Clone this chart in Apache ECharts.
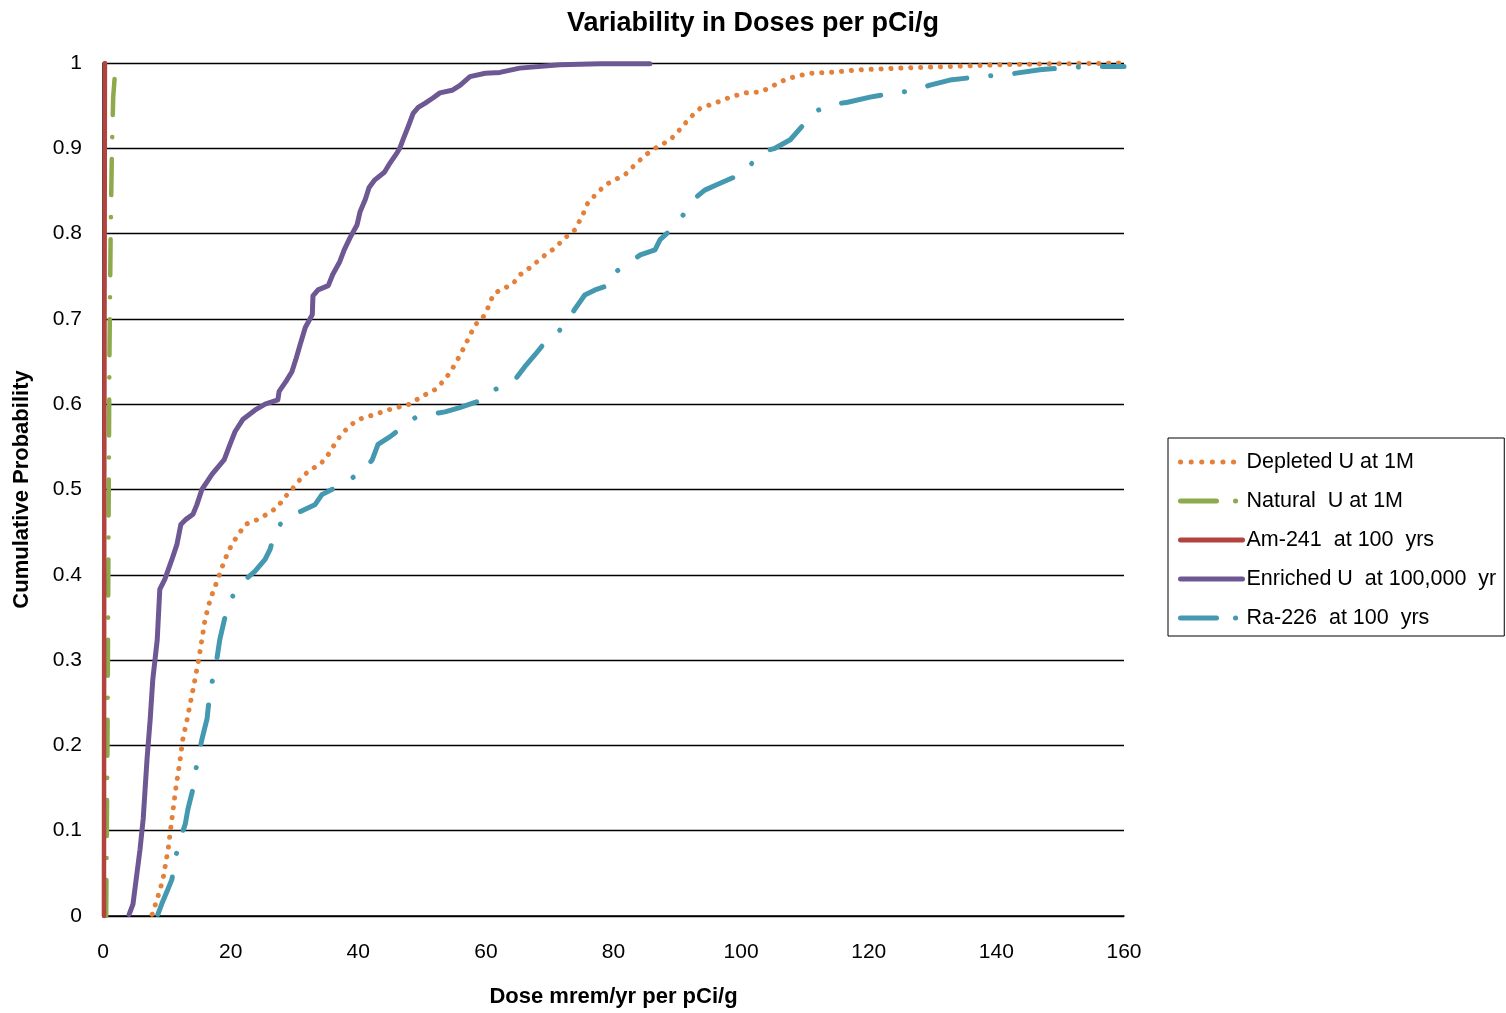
<!DOCTYPE html>
<html>
<head>
<meta charset="utf-8">
<title>Variability in Doses per pCi/g</title>
<script src="https://cdn.jsdelivr.net/npm/echarts@6/dist/echarts.min.js"></script>
<style>
    html, body { margin: 0; padding: 0; background: #fff; }
    #chart { width: 1506px; height: 1013px; }
</style>
</head>
<body>
<div id="chart"></div>
<script>
// data: [dose, cumulative probability]
const depletedU = [
    [7.7, 0.002], [8.5, 0.02], [9.4, 0.043], [10.2, 0.078], [10.8, 0.114], [11.4, 0.149],
    [12.1, 0.184], [12.5, 0.207], [13.2, 0.231], [13.8, 0.254], [14.4, 0.277], [15.0, 0.301],
    [15.5, 0.324], [16.0, 0.348], [16.8, 0.371], [18.0, 0.395], [19.1, 0.418], [20.2, 0.436],
    [21.2, 0.447], [22.3, 0.459], [24.3, 0.465], [25.9, 0.472], [27.3, 0.479], [28.5, 0.491],
    [29.6, 0.5], [30.9, 0.512], [32.4, 0.523], [34.0, 0.529], [35.3, 0.541], [36.8, 0.559],
    [38.4, 0.573], [40.0, 0.582], [42.6, 0.588], [45.0, 0.594], [48.1, 0.6], [49.7, 0.608],
    [52.0, 0.617], [53.6, 0.629], [54.7, 0.641], [56.0, 0.658], [57.2, 0.676], [58.3, 0.693],
    [59.5, 0.701], [60.6, 0.717], [61.1, 0.728], [62.2, 0.734], [64.1, 0.74], [65.4, 0.752],
    [66.9, 0.76], [69.3, 0.775], [70.8, 0.783], [72.4, 0.795], [73.9, 0.804], [75.2, 0.822],
    [75.8, 0.834], [77.1, 0.845], [78.7, 0.857], [80.2, 0.863], [81.8, 0.869], [83.4, 0.881],
    [85.0, 0.892], [86.5, 0.9], [88.9, 0.91], [90.4, 0.922], [92.0, 0.936], [93.6, 0.947],
    [95.9, 0.953], [98.3, 0.96], [100.6, 0.965], [103.0, 0.966], [104.5, 0.971], [106.1, 0.978],
    [108.4, 0.984], [110.8, 0.988], [113.9, 0.989], [118.6, 0.992], [124.9, 0.994], [132.7, 0.996],
    [140.6, 0.998], [148.4, 0.999], [156.2, 0.9995], [160, 1.0]
]
const naturalU = [
    [0.5, 0], [0.6, 0.1], [0.7, 0.2], [0.8, 0.35], [0.9, 0.5], [1.0, 0.65],
    [1.2, 0.8], [1.4, 0.9], [1.6, 0.96], [2.0, 1.0]
]
const am241 = [
    [0.15, 0], [0.2, 0.5], [0.3, 1.0]
]
const enrichedU = [
    [4.1, 0.002], [4.7, 0.014], [5.8, 0.078], [6.3, 0.114], [6.9, 0.184], [7.4, 0.231],
    [7.8, 0.277], [8.5, 0.324], [8.9, 0.383], [9.7, 0.395], [10.8, 0.418], [11.6, 0.436],
    [12.2, 0.459], [13.0, 0.465], [14.1, 0.471], [14.7, 0.482], [15.5, 0.5], [17.1, 0.518],
    [19.0, 0.535], [19.9, 0.553], [20.7, 0.568], [21.9, 0.582], [24.0, 0.594], [25.4, 0.6],
    [27.4, 0.605], [27.6, 0.615], [28.7, 0.627], [29.6, 0.638], [30.2, 0.652], [30.9, 0.67],
    [31.7, 0.69], [32.8, 0.705], [32.9, 0.727], [33.7, 0.734], [35.3, 0.739], [36.0, 0.752],
    [37.1, 0.767], [37.8, 0.781], [38.7, 0.795], [39.8, 0.81], [40.3, 0.826], [41.1, 0.84],
    [41.7, 0.854], [42.6, 0.863], [44.1, 0.872], [45.0, 0.883], [46.1, 0.895], [46.5, 0.9],
    [47.0, 0.91], [47.8, 0.925], [48.6, 0.941], [49.4, 0.948], [50.5, 0.953], [51.7, 0.959],
    [52.8, 0.965], [54.7, 0.968], [56.0, 0.974], [57.5, 0.984], [59.9, 0.988], [62.2, 0.989],
    [65.3, 0.994], [71.6, 0.998], [77.9, 0.999], [85.7, 0.999]
]
const ra226 = [
    [8.6, 0.002], [9.2, 0.014], [10.2, 0.032], [10.8, 0.043], [11.3, 0.067], [12.1, 0.09],
    [12.9, 0.108], [13.3, 0.125], [14.1, 0.149], [14.7, 0.178], [15.5, 0.207], [16.3, 0.231],
    [16.8, 0.266], [17.6, 0.289], [18.3, 0.324], [19.1, 0.35], [19.9, 0.371], [21.2, 0.383],
    [22.7, 0.397], [23.8, 0.404], [25.4, 0.418], [26.2, 0.43], [27.0, 0.453], [28.5, 0.465],
    [30.9, 0.474], [33.2, 0.482], [34.3, 0.494], [36.4, 0.502], [38.7, 0.512], [41.0, 0.523],
    [42.2, 0.535], [43.1, 0.553], [45.0, 0.562], [46.9, 0.573], [48.9, 0.584], [51.2, 0.588],
    [53.6, 0.591], [55.9, 0.596], [58.3, 0.602], [60.6, 0.609], [61.4, 0.617], [63.0, 0.623],
    [64.6, 0.629], [66.1, 0.644], [67.7, 0.658], [69.0, 0.67], [70.8, 0.681], [72.4, 0.693],
    [73.9, 0.711], [75.5, 0.728], [77.1, 0.734], [79.5, 0.74], [79.8, 0.752], [81.8, 0.763],
    [84.2, 0.775], [86.5, 0.781], [87.3, 0.793], [88.9, 0.804], [90.4, 0.816], [92.5, 0.84],
    [94.3, 0.851], [96.7, 0.859], [99.8, 0.869], [102.2, 0.886], [103.3, 0.896], [105.3, 0.9],
    [107.7, 0.91], [109.7, 0.927], [111.6, 0.943], [113.9, 0.951], [116.7, 0.954], [120.2, 0.96],
    [124.1, 0.965], [127.3, 0.968], [129.6, 0.974], [132.7, 0.98], [137.4, 0.984], [142.1, 0.987],
    [146.8, 0.992], [150.0, 0.994], [154.7, 0.996], [160, 0.996]
]

const seriesNames = ['Depleted U at 1M', 'Natural  U at 1M', 'Am-241  at 100  yrs', 'Enriched U  at 100,000  yr', 'Ra-226  at 100  yrs']
const seriesData = [depletedU, naturalU, am241, enrichedU, ra226]
const seriesColors = ['#E3803A', '#8DAA4C', '#B2443F', '#6E5894', '#4499B1']
const seriesDash = [
    [0.1, 9.8],
    [36, 22, 0.1, 22],
    'solid',
    'solid',
    [40, 24, 0.1, 24],
]
const seriesWidth = [5, 4.5, 4.5, 5, 5]
const legendDash = [
    [0.1, 10.5],
    [36, 19, 0.1, 19],
    'solid',
    'solid',
    [36, 19, 0.1, 19],
]

const fontName = 'Liberation Sans, Arial, sans-serif'

let myChart = echarts.init(document.getElementById('chart'))

let series = seriesNames.map((name, i) => {
    return {
        name: name,
        type: 'line',
        data: seriesData[i],
        showSymbol: false,
        symbol: 'none',
        animation: false,
        lineStyle: {
            color: seriesColors[i],
            width: seriesWidth[i],
            type: seriesDash[i],
            cap: 'round',
            join: 'round',
        },
        itemStyle: { color: seriesColors[i] },
    }
})

// legend entries: line sample only, no marker
let legendData = seriesNames.map((name, i) => {
    return {
        name: name,
        itemStyle: { opacity: 0 },
        lineStyle: {
            color: seriesColors[i],
            width: 5,
            type: legendDash[i],
            cap: 'round',
        },
    }
})

let option = {
    animation: false,
    backgroundColor: '#fff',
    title: {
        text: 'Variability in Doses per pCi/g',
        left: 'center',
        top: 5,
        textStyle: { fontFamily: fontName, fontSize: 27, fontWeight: 'bold', color: '#000' },
    },
    grid: {
        left: 103,
        right: 382,
        top: 63,
        bottom: 96,
    },
    legend: {
        orient: 'vertical',
        left: 1168,
        top: 438,
        padding: [13, 8, 7, 10],
        itemWidth: 62,
        itemHeight: 14,
        itemGap: 17,
        borderColor: '#000',
        borderWidth: 1,
        data: legendData,
        textStyle: { fontFamily: fontName, fontSize: 21.5, color: '#000', padding: [0, 0, 0, -1] },
    },
    xAxis: {
        type: 'value',
        min: 0,
        max: 160,
        interval: 20,
        name: 'Dose mrem/yr per pCi/g',
        nameLocation: 'middle',
        nameGap: 70,
        nameTextStyle: { fontFamily: fontName, fontSize: 22, fontWeight: 'bold', color: '#000' },
        axisLine: { show: true, lineStyle: { color: '#000', width: 1.5 } },
        axisTick: { show: false },
        splitLine: { show: false },
        axisLabel: { fontFamily: fontName, fontSize: 21, color: '#000', margin: 26 },
    },
    yAxis: {
        type: 'value',
        min: 0,
        max: 1,
        interval: 0.1,
        name: 'Cumulative Probability',
        nameLocation: 'middle',
        nameGap: 70,
        nameTextStyle: { fontFamily: fontName, fontSize: 22, fontWeight: 'bold', color: '#000' },
        axisLine: { show: true, lineStyle: { color: '#000', width: 1.5 } },
        axisTick: { show: false },
        splitLine: { show: true, lineStyle: { color: '#000', width: 1.3 } },
        axisLabel: { fontFamily: fontName, fontSize: 21, color: '#000', margin: 21 },
    },
    series: series,
}

myChart.setOption(option)
</script>
</body>
</html>
